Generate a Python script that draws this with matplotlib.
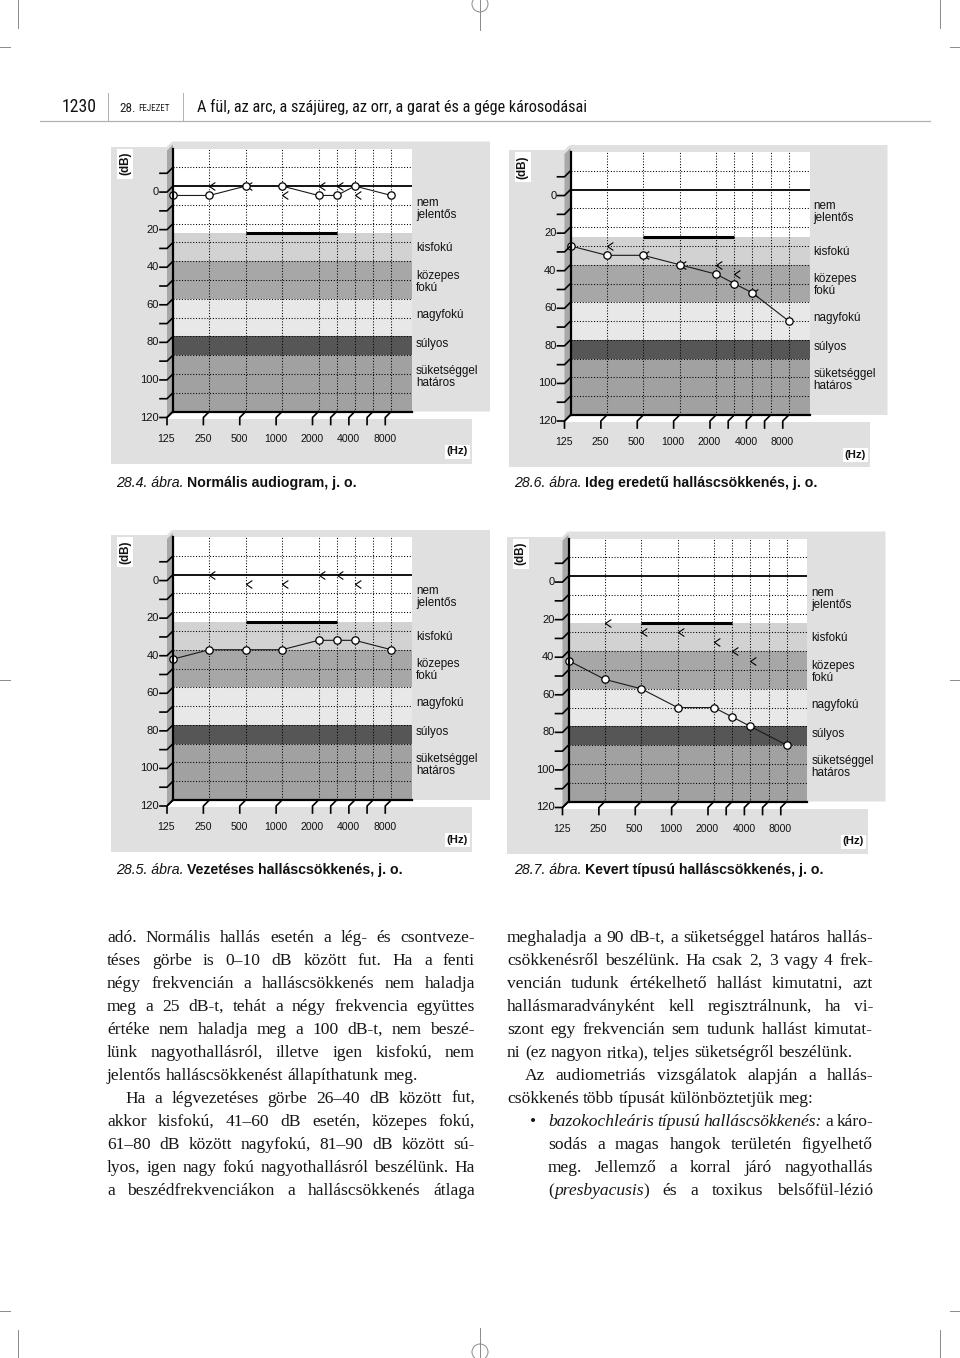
import numpy as np
import matplotlib
matplotlib.use("Agg")
import matplotlib.pyplot as plt
import matplotlib.transforms as mtransforms
from matplotlib.path import Path
from matplotlib.patches import Polygon, Rectangle, Circle
from matplotlib.lines import Line2D
from matplotlib.font_manager import FontProperties, fontManager

# ---------------- data ----------------
freqs = [125, 250, 500, 1000, 2000, 3000, 4000, 8000]
bone_freqs = [250, 500, 1000, 2000, 3000, 4000]

air_normal = [5, 5, 0, 0, 5, 5, 0, 5]
bone_normal = [0, 0, 5, 0, 0, 5]
air_sensorineural = [30, 35, 35, 40, 45, 50, 55, 70]
bone_sensorineural = [30, 35, 40, 40, 45, 55]
air_conductive = [45, 40, 40, 40, 35, 35, 35, 40]
bone_conductive = [0, 5, 5, 0, 0, 5]
air_mixed = [45, 55, 60, 70, 70, 75, 80, 90]
bone_mixed = [25, 30, 30, 35, 40, 45]

band_edges = [-20, 25, 40, 60, 80, 90, 120]
band_colors = ['#ffffff', '#d2d2d2', '#a7a7a7', '#e8e8e8', '#565656', '#a1a1a1']
band_labels = ['nem\njelentős', 'kisfokú', 'közepes\nfokú', 'nagyfokú', 'súlyos',
               'süketséggel\nhatáros']

ytick_values = [0, 20, 40, 60, 80, 100, 120]
yminor_values = [-10, 0, 10, 20, 30, 40, 50, 60, 70, 80, 90, 100, 110, 120]
xtick_freqs = [125, 250, 500, 1000, 2000, 3000, 4000, 6000, 8000]
xtick_labels = ['125', '250', '500', '1000', '2000', '', '4000', '', '8000']
grid_freqs = [250, 500, 1000, 2000, 3000, 4000, 6000, 8000]
speech_freqs = [500, 3000]
speech_level = [25, 25]

caption_numbers = ['28.4. ábra.', '28.6. ábra.', '28.5. ábra.', '28.7. ábra.']
caption_titles = ['Normális audiogram, j. o.', 'Ideg eredetű halláscsökkenés, j. o.',
                  'Vezetéses halláscsökkenés, j. o.', 'Kevert típusú halláscsökkenés, j. o.']
air_series = [air_normal, air_sensorineural, air_conductive, air_mixed]
bone_series = [bone_normal, bone_sensorineural, bone_conductive, bone_mixed]

header_page = '1230'
header_chapter_num = '28.'
header_chapter_word = 'FEJEZET'
header_title = 'A fül, az arc, a szájüreg, az orr, a garat és a gége károsodásai'

left_lines = [
    "adó. Normális hallás esetén a lég- és csontveze-",
    "téses görbe is 0–10 dB között fut. Ha a fenti",
    "négy frekvencián a halláscsökkenés nem haladja",
    "meg a 25 dB-t, tehát a négy frekvencia együttes",
    "értéke nem haladja meg a 100 dB-t, nem beszé-",
    "lünk nagyothallásról, illetve igen kisfokú, nem",
    "jelentős halláscsökkenést állapíthatunk meg.",
    "Ha a légvezetéses görbe 26–40 dB között fut,",
    "akkor kisfokú, 41–60 dB esetén, közepes fokú,",
    "61–80 dB között nagyfokú, 81–90 dB között sú-",
    "lyos, igen nagy fokú nagyothallásról beszélünk. Ha",
    "a beszédfrekvenciákon a halláscsökkenés átlaga",
]
# (indent, justify, bullet)
left_fmt = [(0, 1, 0)] * 6 + [(0, 0, 0), (1, 1, 0)] + [(0, 1, 0)] * 4
right_lines = [
    "meghaladja a 90 dB-t, a süketséggel határos hallás-",
    "csökkenésről beszélünk. Ha csak 2, 3 vagy 4 frek-",
    "vencián tudunk értékelhető hallást kimutatni, azt",
    "hallásmaradványként kell regisztrálnunk, ha vi-",
    "szont egy frekvencián sem tudunk hallást kimutat-",
    "ni (ez nagyon ritka), teljes süketségről beszélünk.",
    "Az audiometriás vizsgálatok alapján a hallás-",
    "csökkenés több típusát különböztetjük meg:",
    "*bazokochleáris típusú halláscsökkenés:* a káro-",
    "sodás a magas hangok területén figyelhető",
    "meg. Jellemző a korral járó nagyothallás",
    "(*presbyacusis*) és a toxikus belsőfül-lézió",
]
right_fmt = [(0, 1, 0)] * 5 + [(0, 0, 0), (1, 1, 0), (0, 0, 0), (2, 1, 1), (2, 1, 0),
                               (2, 1, 0), (2, 1, 0)]

# ---------------- fonts ----------------
SANS = 'Liberation Sans'
SERIF = 'Liberation Serif'


def find_condensed():
    prefs = ['Liberation Sans Narrow', 'Roboto Condensed', 'Open Sans Condensed',
             'Noto Sans Condensed', 'DejaVu Sans', 'Noto Sans', 'Open Sans', 'Roboto']
    found = []
    for f in fontManager.ttflist:
        nm = f.name
        low = (nm + ' ' + str(f.fname)).lower()
        cond = ('narrow' in low or 'condensed' in low or
                str(f.stretch) in ('condensed', 'semi-condensed', 'extra-condensed'))
        if not cond or f.style != 'normal':
            continue
        if str(f.weight) not in ('400', 'normal', 'regular', 'book'):
            continue
        if 'semi' in low or 'extra' in low or 'light' in low or 'bold' in low:
            continue
        rank = prefs.index(nm) if nm in prefs else len(prefs)
        found.append((rank, f.fname))
    if found:
        found.sort()
        return found[0][1]
    return None


COND_FILE = find_condensed()


def cond_fp(size):
    if COND_FILE:
        return FontProperties(fname=COND_FILE, size=size)
    return FontProperties(family=SANS, size=size)


# ---------------- figure ----------------
fig = plt.figure(figsize=(9.6, 13.58), dpi=100)
pg = fig.add_axes([0, 0, 1, 1])
pg.set_xlim(0, 960)
pg.set_ylim(1358, 0)
pg.axis('off')
renderer = fig.canvas.get_renderer()


def tw(s, fp):
    w, h, d = renderer.get_text_width_height_descent(s, fp, ismath=False)
    return w


def fit_fp(text, target_w, base_size, maxsize):
    fp = cond_fp(base_size)
    s = base_size * target_w / tw(text, fp)
    return cond_fp(min(s, maxsize))


# frequency scale: octave spacing, 3000/6000 half-way
_oct_f = np.log2([125, 250, 500, 1000, 2000, 3000, 4000, 6000, 8000, 16000])
_oct_p = np.array([0, 1, 2, 3, 4, 4.5, 5, 5.5, 6, 7])


def fwd(f):
    return np.interp(np.log2(np.clip(f, 1, None)), _oct_f, _oct_p)


def inv(p):
    return 2 ** np.interp(p, _oct_p, _oct_f)


bone_marker = Path([(1, 0.68), (0, 0), (1, -0.68)], [Path.MOVETO, Path.LINETO, Path.LINETO])

BG = '#e0e0e0'
W, H = 239, 263
panel_pos = [(173, 148.5), (570.5, 152), (173, 537), (568.5, 538.5)]
caption_pos = [(116, 483), (514, 483), (116, 870), (514, 870)]


def front_line(ax, x, y, offs, **kw):
    tr = mtransforms.Affine2D().scale(1, -1) + mtransforms.ScaledTranslation(x, y, ax.transData)
    ln = Line2D([o[0] for o in offs], [o[1] for o in offs], transform=tr, clip_on=False, **kw)
    ax.add_artist(ln)


for i, (L, T) in enumerate(panel_pos):
    # background shapes
    pg.add_patch(Rectangle((L - 62, T - 2), 56, H + 54, color=BG, lw=0, zorder=0))
    pg.add_patch(Polygon([(L - 6, T - 2), (L - 1, T - 7), (L + 317, T - 7), (L + 317, T + H),
                          (L - 6, T + H)], closed=True, color=BG, lw=0, zorder=0))
    pg.add_patch(Rectangle((L - 62, T + H + 7), 361, 45, color=BG, lw=0, zorder=0))
    pg.add_patch(Polygon([(L - 6, T + 2), (L, T - 4), (L, T + H), (L - 6, T + H + 6)],
                         closed=True, color='#a8a8a8', lw=0, zorder=1))
    pg.add_patch(Rectangle((L - 56, T), 16, 30, color='white', lw=0, zorder=1))
    pg.text(L - 48, T + 15, '(dB)', rotation=90, ha='center', va='center', family=SANS,
            weight='bold', fontsize=8.4, zorder=2, color='#111')
    pg.add_patch(Rectangle((L + 272, T + 296), 25, 14, color='white', lw=0, zorder=1))
    pg.text(L + 284.5, T + 303, '(Hz)', ha='center', va='center', family=SANS,
            weight='bold', fontsize=8.2, zorder=2, color='#111')

    ax = fig.add_axes([L / 960, 1 - (T + H) / 1358, W / 960, H / 1358])
    ax.set_xscale('function', functions=(fwd, inv))
    ax.set_autoscale_on(False)
    ax.set_xlim(125, inv(6.57))
    ax.set_ylim(120, -20)
    ax.patch.set_visible(False)
    for s in ax.spines.values():
        s.set_visible(False)
    ax.set_xticks([])
    ax.set_yticks([])

    for lo, hi, c in zip(band_edges[:-1], band_edges[1:], band_colors):
        ax.axhspan(lo, hi, color=c, lw=0, zorder=0)
    for v in yminor_values[:-1]:
        if v != 0:
            ax.axhline(v, color='k', lw=0.75, ls=(0, (1, 1.7)), zorder=1)
    for f in grid_freqs:
        ax.axvline(f, color='k', lw=0.75, ls=(0, (1, 1.7)), zorder=1)
    ax.axhline(0, color='k', lw=1.3, zorder=2)
    ax.plot(speech_freqs, speech_level, color='k', lw=2.2, solid_capstyle='butt', zorder=2)
    ax.axvline(125, color='k', lw=1.6, zorder=6, clip_on=False)
    ax.axhline(120, color='k', lw=1.6, zorder=6, clip_on=False)

    ax.plot(freqs, air_series[i], '-', color='#1a1a1a', lw=0.8, marker='o', ms=5.3,
            mfc='white', mec='k', mew=0.9, zorder=5, clip_on=False)
    ax.plot(bone_freqs, bone_series[i], ls='none', marker=bone_marker, ms=8.4, mfc='none',
            mec='k', mew=0.8, zorder=4)

    # front-plane y ticks and labels
    for v in yminor_values:
        front_line(ax, 125, v, [(-13, 6), (-6, 6), (0, 0)], color='k', lw=1.2, zorder=6)
    for v in ytick_values:
        ax.annotate(str(v), xy=(125, v), xytext=(-14, -6), textcoords='offset pixels',
                    ha='right', va='center', family=SANS, fontsize=8.0, color='#111',
                    annotation_clip=False)
    # front-plane x ticks and labels
    for f, lab in zip(xtick_freqs, xtick_labels):
        front_line(ax, f, 120, [(0, 0), (-6, 6), (-6, 13)], color='k', lw=1.2, zorder=6)
        if lab:
            ax.annotate(lab, xy=(f, 120), xytext=(-6.5, -27), textcoords='offset pixels',
                        ha='center', va='center', family=SANS, fontsize=7.6, color='#111',
                        annotation_clip=False)
    # band labels at the right
    label_pos_db = [12, 33, 51, 68.5, 84, 101.5]
    for lab, yv in zip(band_labels, label_pos_db):
        ax.annotate(lab, xy=(1, yv), xycoords=ax.get_yaxis_transform(), xytext=(4, 0),
                    textcoords='offset pixels', ha='left', va='center', family=SANS,
                    fontsize=8.4, color='#111', linespacing=1.0, annotation_clip=False)

    # caption
    cx, cy = caption_pos[i]
    fp_i = FontProperties(family=SANS, style='italic', size=10.2)
    fp_b = FontProperties(family=SANS, weight='bold', size=10.2)
    pg.text(cx, cy, caption_numbers[i], fontproperties=fp_i, va='center', ha='left',
            color='#111')
    sp = tw('a a', fp_i) - tw('aa', fp_i)
    pg.text(cx + tw(caption_numbers[i], fp_i) + sp, cy, caption_titles[i],
            fontproperties=fp_b, va='center', ha='left', color='#111')

# ---------------- header ----------------
fp_page = fit_fp(header_page, 35, 14, 17)
pg.text(97, 107, header_page, fontproperties=fp_page, ha='right', va='center', color='#111')
fp_c1 = cond_fp(9.5)
pg.text(119, 108, header_chapter_num, fontproperties=fp_c1, ha='left', va='center',
        color='#222')
x_c2 = 119 + tw(header_chapter_num, fp_c1) + 3
fp_c2 = fit_fp(header_chapter_word, 170 - x_c2, 7, 7.5)
pg.text(x_c2, 108.5, header_chapter_word, fontproperties=fp_c2, ha='left', va='center',
        color='#222')
fp_h = fit_fp(header_title, 391, 13, 14.5)
pg.text(197, 107, header_title, fontproperties=fp_h, ha='left', va='center', color='#111')
for xv in (108, 183):
    pg.plot([xv, xv], [93, 120], color='#b0b0b0', lw=0.7)
pg.plot([40, 930], [120.5, 120.5], color='#b0b0b0', lw=0.9)

# ---------------- body text ----------------
BODY_MAX = 13.0


def parse(line):
    words, it = [], False
    for raw in line.split(' '):
        runs, buf = [], ''
        for ch in raw:
            if ch == '*':
                if buf:
                    runs.append((buf, it))
                buf = ''
                it = not it
            else:
                buf += ch
        if buf:
            runs.append((buf, it))
        words.append(runs)
    return words


def fonts(size):
    r = FontProperties(family=SERIF, size=size)
    it = FontProperties(family=SERIF, style='italic', size=size)
    return r, it


def line_start(x0, ind):
    return x0 + (18 if ind == 1 else 0) + (41 if ind == 2 else 0)


def fitted_size(lines, fmts, x0, x1):
    best = BODY_MAX
    for line, (ind, just, bullet) in zip(lines, fmts):
        words = parse(line)
        start = line_start(x0, ind)
        size = BODY_MAX
        while size > 10:
            fr, fi = fonts(size)
            space_w = tw('a a', fr) - tw('aa', fr)
            widths = [sum(tw(t, fi if it else fr) for t, it in w) for w in words]
            if sum(widths) + (len(words) - 1) * space_w * 0.72 <= x1 - start:
                break
            size -= 0.1
        best = min(best, size)
    return best


def set_column(lines, fmts, x0, x1, y0, dy, size):
    fr, fi = fonts(size)
    space_w = tw('a a', fr) - tw('aa', fr)
    for k, (line, (ind, just, bullet)) in enumerate(zip(lines, fmts)):
        y = y0 + k * dy
        start = line_start(x0, ind)
        words = parse(line)
        widths = [sum(tw(t, fi if it else fr) for t, it in w) for w in words]
        if bullet:
            pg.text(x0 + 23, y, '•', fontproperties=fr, ha='left', va='baseline',
                    color='#161616')
        if just and len(words) > 1:
            gap = (x1 - start - sum(widths)) / (len(words) - 1)
        else:
            gap = space_w
        x = start
        for w, wd in zip(words, widths):
            xx = x
            for t, it in w:
                fp = fi if it else fr
                pg.text(xx, y, t, fontproperties=fp, ha='left', va='baseline', color='#161616')
                xx += tw(t, fp)
            x += wd + gap


body_size = min(fitted_size(left_lines, left_fmt, 107, 475),
                fitted_size(right_lines, right_fmt, 507, 873))
set_column(left_lines, left_fmt, 107, 475, 942, 23, body_size)
set_column(right_lines, right_fmt, 507, 873, 942, 23, body_size)

# ---------------- crop marks ----------------
mk = dict(color='#8a8a8a', lw=0.7)
for xv in (18, 940):
    pg.plot([xv, xv], [0, 28], **mk)
    pg.plot([xv, xv], [1330, 1358], **mk)
for yv in (47, 680, 1311):
    pg.plot([0, 10], [yv, yv], **mk)
    pg.plot([950, 960], [yv, yv], **mk)
pg.add_patch(Circle((480, 4), 8, fill=False, **mk))
pg.plot([480, 480], [0, 30], **mk)
pg.add_patch(Circle((480, 1352), 8, fill=False, **mk))
pg.plot([480, 480], [1328, 1358], **mk)

fig.savefig('out.png', dpi=100)
